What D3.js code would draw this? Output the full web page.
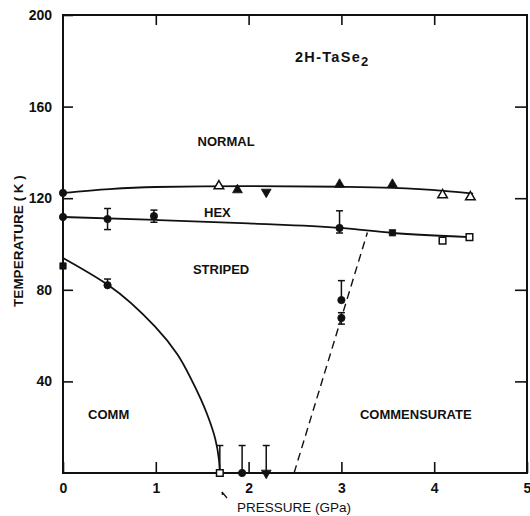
<!DOCTYPE html>
<html>
<head>
<meta charset="utf-8">
<script src="https://cdn.jsdelivr.net/npm/d3@7"></script>
<style>
  body { margin: 0; background: #fff; }
  svg text { font-family: "Liberation Sans", Arial, sans-serif; fill: #111; }
</style>
</head>
<body>
<svg id="chart" width="530" height="516"></svg>
<script>
// phase boundaries, [pressure GPa, temperature K]
var normalHexLine = [[0,122.3],[0.5,124],[1,124.9],[2,125.3],[3,125],[3.55,124.5],[4.1,123.2],[4.42,122]];
var hexStripedLine = [[0,111.8],[1,110.5],[2,109],[3,107],[3.55,104.8],[4.38,103]];
var commLine = [[0,93.9],[0.49,82],[0.99,64],[1.23,52],[1.4,39.5],[1.55,26],[1.64,15],[1.68,6],[1.69,0]];
var dashedLine = [[2.49,0],[3.28,105]];

// measured points
var filledCircles = [[0,122.3],[0,111.8],[0.48,110.9],[0.98,112.2],[2.98,107],[0.48,82],[1.93,0],[3,75.5],[3,67.7]];
var openTriangles = [[1.68,125.3],[4.09,121.4],[4.39,120.5]];
var filledTriangles = [[1.88,123.6],[2.98,126],[3.55,126]];
var downTriangles = [[2.19,122.7],[2.19,0]];
var filledSquares = [[0,90.4],[3.55,104.9]];
var openSquares = [[4.09,101.5],[4.38,103],[1.69,0]];
// [pressure, low, high]
var errorBars = [[0.48,106.3,115.5],[0.98,109.5,114.8],[2.98,104.8,114.5],[0.48,82,84.7],
                 [1.69,0,12],[1.93,0,12],[2.19,0,12],[3,75.5,84],[3,65,70]];

var xTicks = [0,1,2,3,4,5];
var yTicks = [40,80,120,160,200];

var regionLabels = [
  {text:"NORMAL", p:1.45, t:143},
  {text:"HEX", p:1.52, t:112},
  {text:"STRIPED", p:1.4, t:87},
  {text:"COMM", p:0.27, t:23.5},
  {text:"COMMENSURATE", p:3.2, t:23.5}
];

var svg = d3.select("#chart");
var x = d3.scaleLinear().domain([0,5]).range([63,527]);
var y = d3.scaleLinear().domain([0,200]).range([473,15]);

// frame
svg.append("rect")
  .attr("x", x(0)).attr("y", y(200))
  .attr("width", x(5)-x(0)).attr("height", y(0)-y(200))
  .attr("fill","none").attr("stroke","#111").attr("stroke-width",2);

function styleAxis(g) {
  g.select(".domain").remove();
  g.selectAll("line").attr("stroke","#111").attr("stroke-width",1.6);
  g.selectAll("text").attr("font-size",14).attr("font-weight","bold").attr("fill","#111")
    .attr("font-family","Liberation Sans, Arial, sans-serif");
}

svg.append("g").attr("transform","translate(0,"+y(0)+")")
  .call(d3.axisBottom(x).tickValues(xTicks).tickSize(-11).tickPadding(10).tickFormat(d3.format("d")))
  .call(styleAxis);
svg.append("g").attr("transform","translate(0,"+y(200)+")")
  .call(d3.axisTop(x).tickValues([1,2,3,4]).tickSize(-10).tickFormat(""))
  .call(styleAxis);
svg.append("g").attr("transform","translate("+x(0)+",0)")
  .call(d3.axisLeft(y).tickValues(yTicks).tickSize(-10).tickPadding(11).tickFormat(d3.format("d")))
  .call(styleAxis);
svg.append("g").attr("transform","translate("+x(5)+",0)")
  .call(d3.axisRight(y).tickValues([40,80,120,160]).tickSize(-12).tickFormat(""))
  .call(styleAxis);

// curves
function linePath(curve) {
  return d3.line().x(function(d){return x(d[0]);}).y(function(d){return y(d[1]);}).curve(curve);
}
[normalHexLine, hexStripedLine].forEach(function(c) {
  svg.append("path").datum(c)
    .attr("d", linePath(d3.curveMonotoneX))
    .attr("fill","none").attr("stroke","#111").attr("stroke-width",1.8);
});
svg.append("path").datum(commLine)
  .attr("d", linePath(d3.curveMonotoneY))
  .attr("fill","none").attr("stroke","#111").attr("stroke-width",1.8);
svg.append("path").datum(dashedLine)
  .attr("d", linePath(d3.curveLinear))
  .attr("fill","none").attr("stroke","#111").attr("stroke-width",1.4)
  .attr("stroke-dasharray","8,5");

// error bars
var eb = svg.append("g").attr("stroke","#111").attr("stroke-width",1.5);
errorBars.forEach(function(e) {
  var px = x(e[0]);
  eb.append("line").attr("x1",px).attr("x2",px).attr("y1",y(e[1])).attr("y2",y(e[2]));
  eb.append("line").attr("x1",px-3.5).attr("x2",px+3.5).attr("y1",y(e[2])).attr("y2",y(e[2]));
  if (e[1] > 0) eb.append("line").attr("x1",px-3.5).attr("x2",px+3.5).attr("y1",y(e[1])).attr("y2",y(e[1]));
});

// markers
function drawMarkers(data, type, size, filled, rot) {
  svg.append("g").selectAll("path").data(data).join("path")
    .attr("d", d3.symbol().type(type).size(size))
    .attr("transform", function(d){ return "translate("+x(d[0])+","+y(d[1])+")" + (rot ? " rotate(180)" : ""); })
    .attr("fill", filled ? "#111" : "#fff")
    .attr("stroke","#111").attr("stroke-width", filled ? 0.8 : 1.5);
}
drawMarkers(filledCircles, d3.symbolCircle, 42, true);
drawMarkers(openTriangles, d3.symbolTriangle, 40, false);
drawMarkers(filledTriangles, d3.symbolTriangle, 42, true);
drawMarkers(downTriangles, d3.symbolTriangle, 42, true, true);
drawMarkers(filledSquares, d3.symbolSquare, 40, true);
drawMarkers(openSquares, d3.symbolSquare, 44, false);

// labels
svg.append("g").selectAll("text").data(regionLabels).join("text")
  .attr("x", function(d){return x(d.p);}).attr("y", function(d){return y(d.t);})
  .attr("font-size",13).attr("font-weight","bold")
  .text(function(d){return d.text;});

var title = svg.append("text").attr("x",295).attr("y",62).attr("font-size",14.5)
  .attr("font-weight","bold").attr("letter-spacing",1.3);
title.append("tspan").text("2H-TaSe");
title.append("tspan").attr("dy",4).attr("font-size",13).text("2");

svg.append("text").attr("transform","translate(23,241) rotate(-90)")
  .attr("text-anchor","middle").attr("font-size",13.5).attr("font-weight","bold")
  .text("TEMPERATURE ( K )");
svg.append("text").attr("x",237).attr("y",512)
  .attr("font-size",13.5).text("PRESSURE (GPa)");

svg.append("path").attr("d","M222,492 L227,498 M222,492 L222.5,495")
  .attr("fill","none").attr("stroke","#111").attr("stroke-width",1.3);
</script>
</body>
</html>
